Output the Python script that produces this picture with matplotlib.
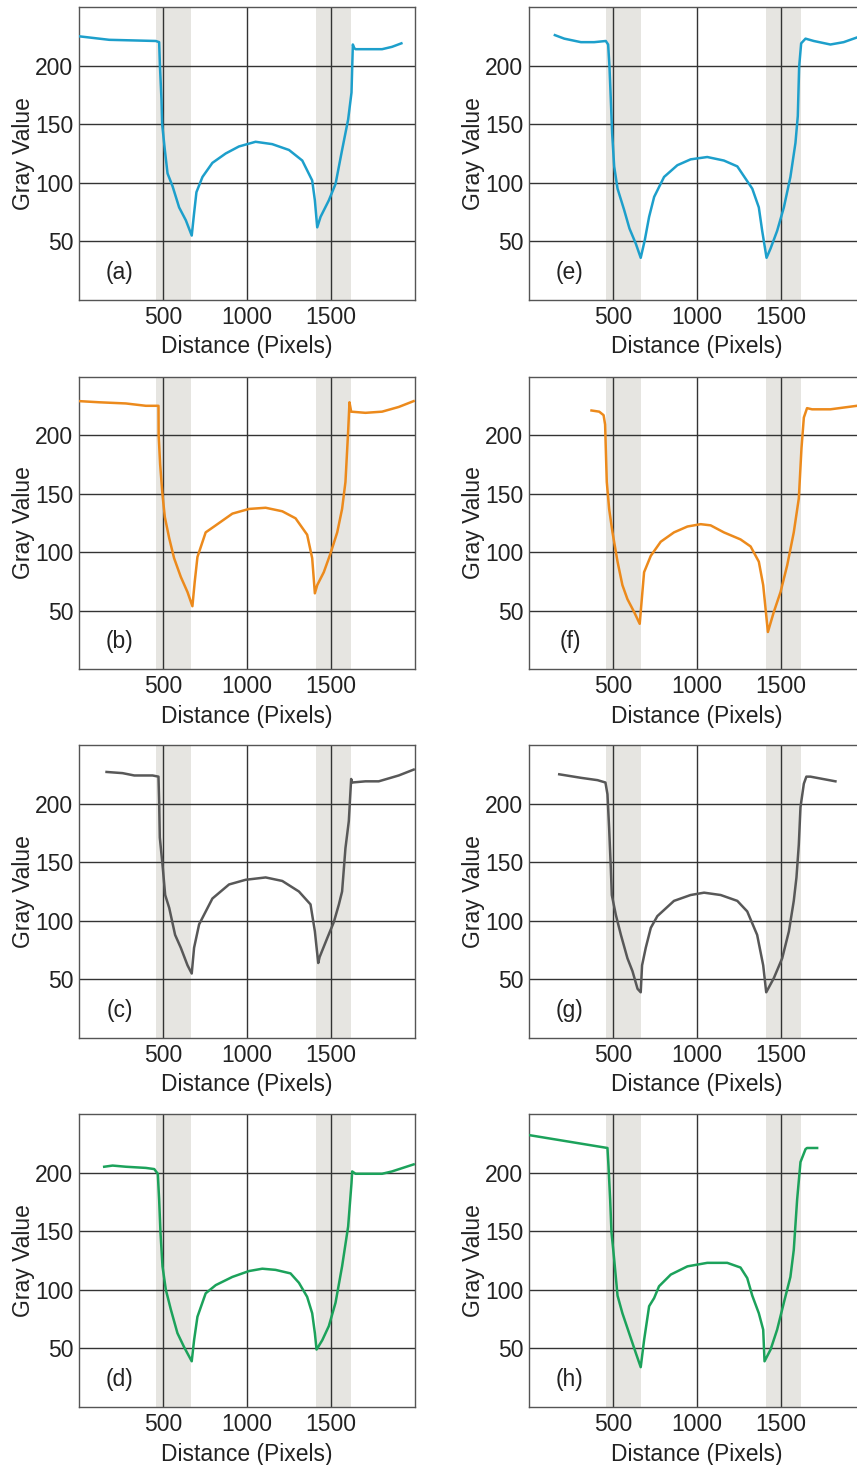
import matplotlib
matplotlib.use("Agg")
import matplotlib.pyplot as plt

plt.rcParams['font.family'] = ['Liberation Sans', 'DejaVu Sans']

# profile data (distance in pixels, gray value)
a_x = [0, 180, 457, 477, 482, 491, 495, 511, 527, 557, 596, 636, 671, 685, 699, 735, 794, 873, 952, 1051,
       1150, 1250, 1329, 1388, 1404, 1418, 1438, 1487, 1527, 1566, 1602, 1622, 1630, 1638, 1646, 1804, 1863, 1919]
a_y = [225, 222, 221, 220, 199, 171, 150, 128, 108, 97, 79, 68, 55, 74, 92, 105, 117, 125, 131, 135,
       133, 128, 119, 102, 85, 62, 71, 85, 99, 128, 154, 177, 218, 215, 214, 214, 216, 219]

b_x = [0, 121, 279, 398, 473, 474, 483, 497, 511, 537, 566, 606, 646, 675, 689, 705, 754, 814, 913, 1012,
       1111, 1210, 1289, 1358, 1388, 1404, 1418, 1457, 1497, 1537, 1566, 1586, 1602, 1610, 1620, 1705, 1804, 1903, 1992]
b_y = [229, 228, 227, 225, 225, 200, 175, 149, 130, 112, 95, 79, 66, 54, 75, 96, 117, 123, 133, 137,
       138, 135, 129, 115, 95, 65, 72, 83, 99, 117, 137, 160, 203, 228, 220, 219, 220, 224, 229]

c_x = [164, 259, 329, 438, 473, 477, 481, 497, 513, 537, 572, 606, 646, 671, 685, 715, 794, 893, 992, 1111,
       1210, 1309, 1378, 1404, 1424, 1432, 1477, 1517, 1547, 1566, 1586, 1606, 1620, 1626, 1705, 1784, 1903, 1992]
c_y = [227, 226, 224, 224, 223, 202, 171, 148, 122, 111, 88, 77, 62, 55, 77, 97, 119, 131, 135, 137,
       134, 125, 114, 91, 64, 69, 85, 99, 114, 125, 162, 185, 221, 218, 219, 219, 224, 229]

d_x = [150, 200, 279, 398, 448, 469, 477, 485, 497, 517, 547, 586, 626, 671, 685, 705, 754, 814, 913, 1012,
       1091, 1170, 1259, 1309, 1358, 1388, 1404, 1414, 1448, 1487, 1527, 1566, 1602, 1622, 1626, 1646, 1804, 1863, 1992]
d_y = [205, 206, 205, 204, 203, 199, 177, 149, 120, 100, 83, 63, 51, 39, 57, 77, 97, 104, 111, 116,
       118, 117, 114, 106, 94, 80, 63, 49, 57, 69, 89, 120, 154, 191, 201, 199, 199, 201, 207]

e_x = [154, 210, 309, 388, 457, 471, 479, 487, 495, 507, 527, 566, 598, 636, 665, 689, 715, 745, 804, 883,
       962, 1061, 1160, 1240, 1329, 1368, 1388, 1414, 1438, 1477, 1517, 1556, 1586, 1600, 1608, 1620, 1646,
       1695, 1794, 1873, 1952, 2000]
e_y = [226, 223, 220, 220, 221, 218, 199, 171, 142, 114, 95, 77, 61, 48, 36, 51, 71, 88, 105, 115,
       120, 122, 119, 114, 95, 79, 59, 36, 44, 59, 79, 105, 134, 157, 199, 219, 223,
       221, 218, 220, 224, 226]

f_x = [372, 418, 444, 453, 457, 463, 477, 497, 527, 556, 586, 626, 659, 685, 725, 784, 863, 943, 1022, 1081,
       1160, 1259, 1319, 1368, 1394, 1422, 1457, 1497, 1537, 1576, 1606, 1622, 1636, 1655, 1685, 1794, 1952, 2000]
f_y = [221, 220, 217, 209, 189, 160, 137, 117, 92, 72, 60, 49, 39, 83, 97, 109, 117, 122, 124, 123,
       117, 111, 105, 92, 72, 32, 49, 66, 89, 117, 146, 189, 215, 223, 222, 222, 225, 226]

g_x = [180, 309, 408, 455, 467, 477, 487, 493, 517, 547, 586, 616, 646, 665, 673, 695, 725, 764, 863, 962,
       1042, 1141, 1240, 1299, 1358, 1394, 1412, 1457, 1507, 1547, 1576, 1592, 1606, 1616, 1636, 1651, 1675, 1824]
g_y = [225, 222, 220, 218, 208, 179, 145, 122, 105, 88, 68, 57, 42, 39, 62, 77, 94, 104, 117, 122,
       124, 122, 117, 108, 88, 62, 39, 51, 68, 91, 117, 137, 165, 197, 217, 223, 223, 219]

h_x = [0, 467, 473, 483, 491, 507, 527, 556, 596, 636, 665, 685, 715, 745, 774, 844, 943, 1061, 1180, 1259,
       1299, 1329, 1368, 1394, 1402, 1438, 1477, 1517, 1556, 1576, 1596, 1616, 1646, 1655, 1715]
h_y = [232, 221, 206, 177, 149, 126, 95, 80, 63, 46, 34, 57, 86, 93, 103, 113, 120, 123, 123, 119,
       110, 95, 80, 66, 39, 49, 66, 89, 111, 134, 177, 209, 220, 221, 221]

panels = [
    ('(a)', a_x, a_y, '#1d9fcb'), ('(e)', e_x, e_y, '#1d9fcb'),
    ('(b)', b_x, b_y, '#ec8a1c'), ('(f)', f_x, f_y, '#ec8a1c'),
    ('(c)', c_x, c_y, '#585858'), ('(g)', g_x, g_y, '#585858'),
    ('(d)', d_x, d_y, '#1ca25b'), ('(h)', h_x, h_y, '#1ca25b'),
]
bands = [(460, 667), (1412, 1618)]
x_ticks = [500, 1000, 1500]
y_ticks = [50, 100, 150, 200]

W, H = 857, 1465
fig = plt.figure(figsize=(W / 100, H / 100), dpi=100)

col_left = [79, 529]
row_top = [7, 376.5, 745, 1114]
ax_w, ax_h = 336, 293

for i, (label, xs, ys, color) in enumerate(panels):
    r, c = divmod(i, 2)
    ax = fig.add_axes([col_left[c] / W, 1 - (row_top[r] + ax_h) / H, ax_w / W, ax_h / H])
    for lo, hi in bands:
        ax.axvspan(lo, hi, color='#e6e5e1', lw=0, zorder=0)
    ax.plot(xs, ys, color=color, lw=1.8, zorder=3, solid_joinstyle='round')
    ax.set_xlim(0, 2000)
    ax.set_ylim(0, 250)
    ax.set_xticks(x_ticks)
    ax.set_yticks(y_ticks)
    ax.grid(True, color='#333333', lw=1.0, zorder=1)
    ax.set_axisbelow(True)
    for s in ax.spines.values():
        s.set_color('#555555')
        s.set_linewidth(1.0)
    ax.tick_params(length=0, labelsize=16.5, colors='#222222', pad=4)
    ax.set_xlabel('Distance (Pixels)', fontsize=16.5, color='#222222', labelpad=5)
    ax.set_ylabel('Gray Value', fontsize=16.5, color='#222222', labelpad=0)
    ax.text(0.122, 0.095, label, transform=ax.transAxes, fontsize=16.5,
            color='#222222', ha='center', va='center')

fig.savefig('out.png', dpi=100)
